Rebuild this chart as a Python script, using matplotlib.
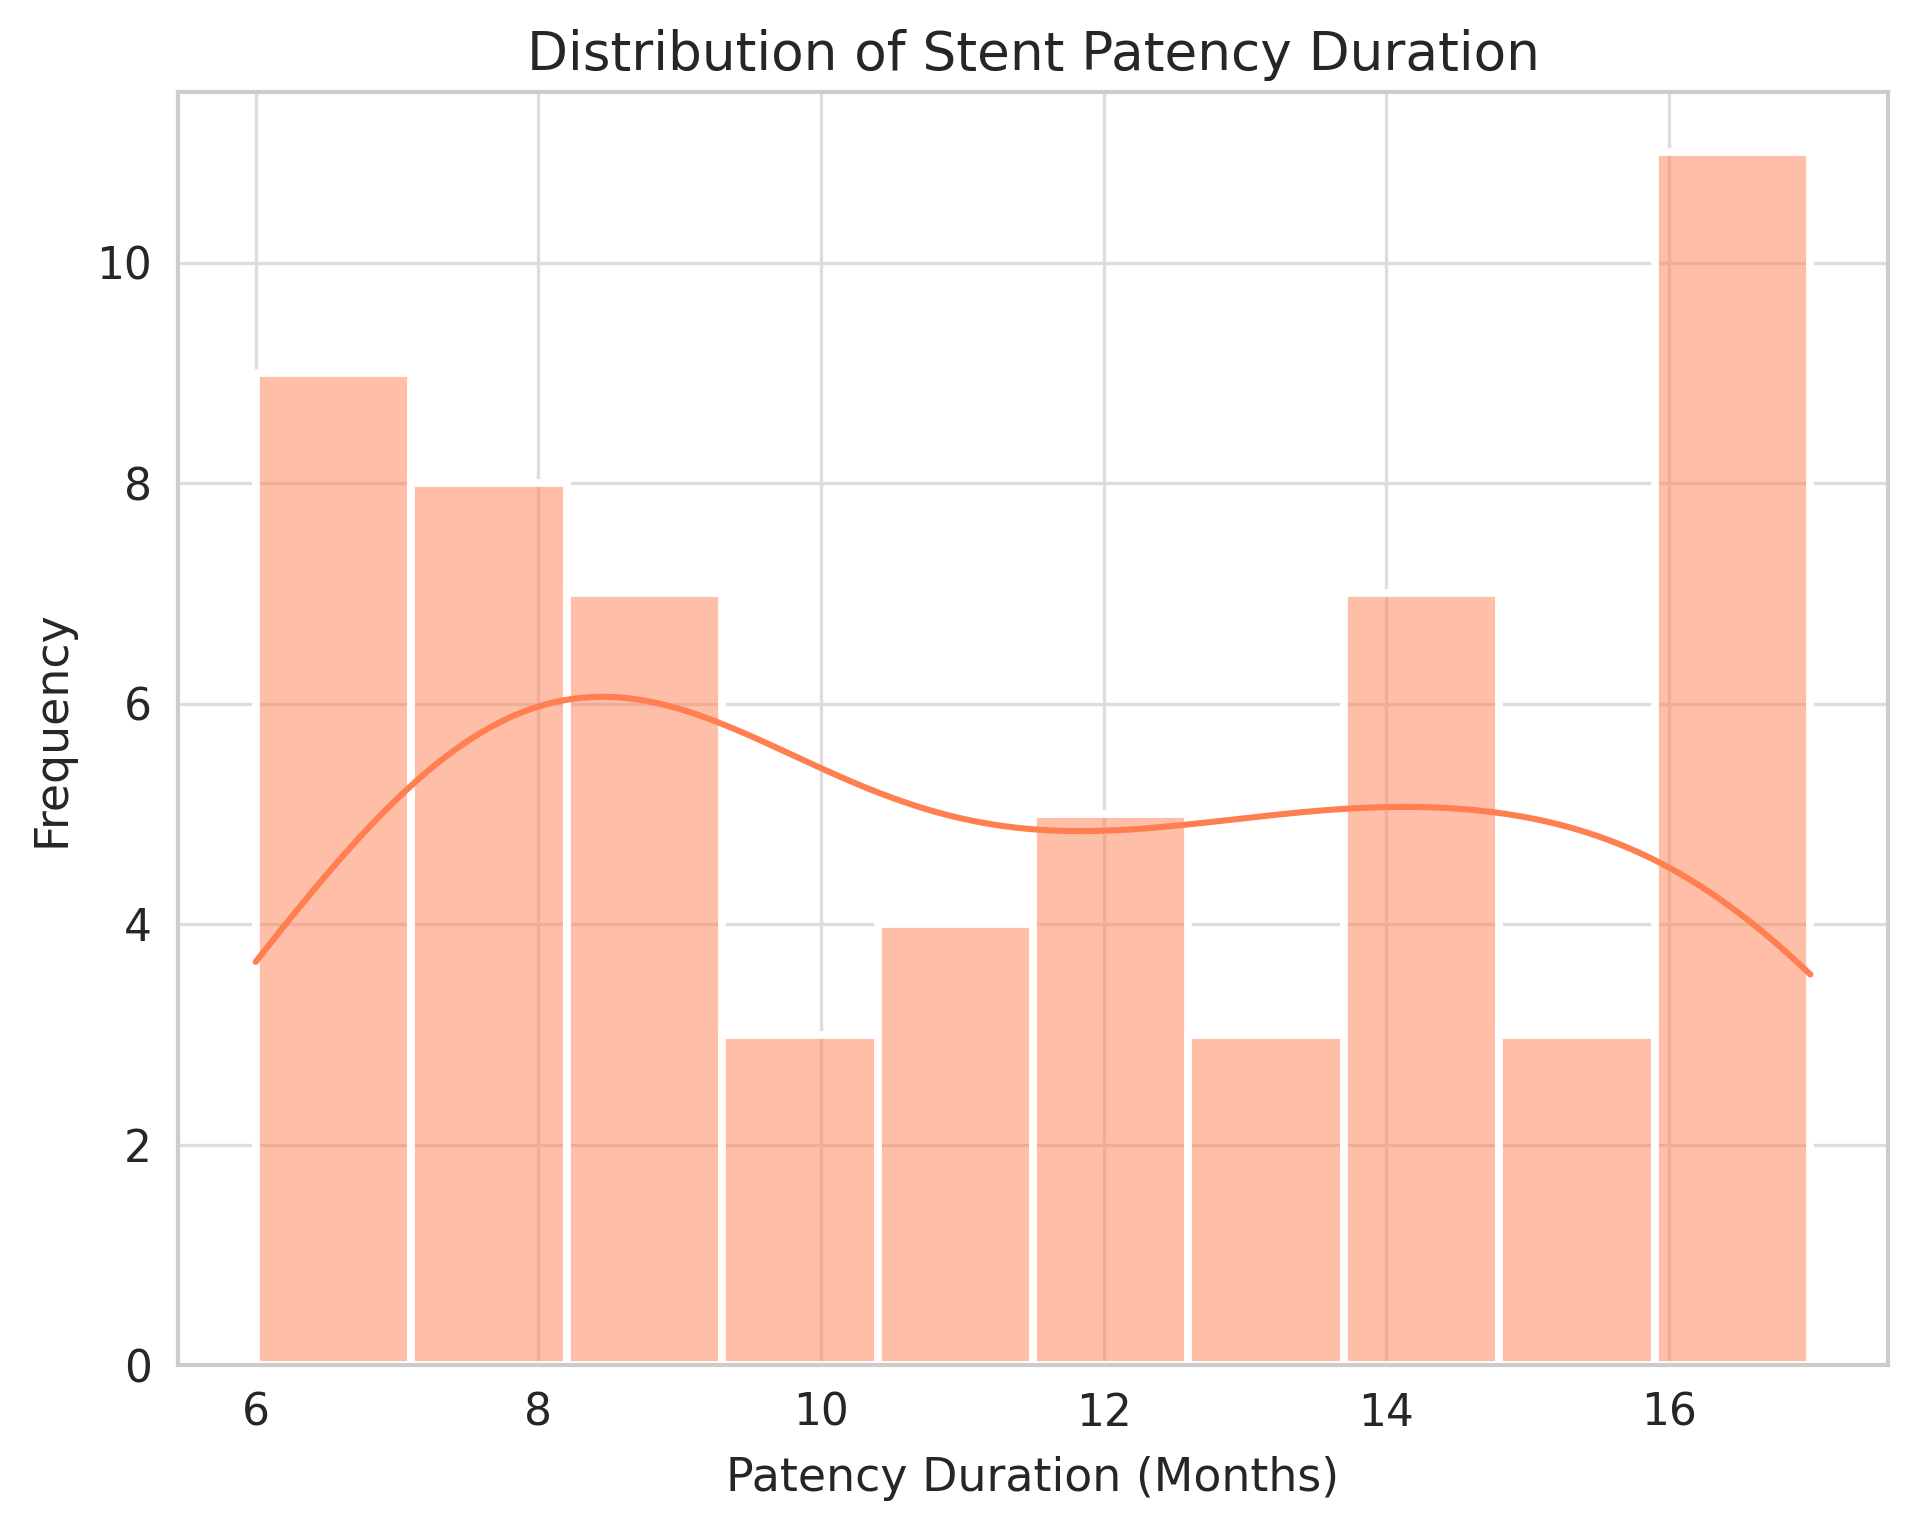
import numpy as np
import pandas as pd
import matplotlib
matplotlib.use("Agg")
import matplotlib.pyplot as plt
import seaborn as sns

# Patency durations (months) and how many patients had each
months = [6, 7, 8, 9, 10, 11, 12, 13, 14, 15, 16, 17]
patients = [5, 4, 8, 7, 3, 4, 5, 3, 7, 3, 5, 6]

title = "Distribution of Stent Patency Duration"
xlabel = "Patency Duration (Months)"
ylabel = "Frequency"

data = pd.DataFrame({"Patency": np.repeat(months, patients)})

sns.set_theme(style="whitegrid")
plt.rcParams['font.family'] = ['DejaVu Sans']

fig = plt.figure(figsize=(1913 / 200, 1529 / 200), dpi=200)
ax = fig.add_axes([0.093, 0.107, 0.894, 0.833])

sns.histplot(data=data, x="Patency", bins=10, kde=True, color="coral",
             edgecolor="white", linewidth=2.8, alpha=0.5, ax=ax,
             line_kws={"linewidth": 2.2})

ax.set_title(title, fontsize=19.2, pad=8)
ax.set_xlabel(xlabel, fontsize=16.5, labelpad=7.5)
ax.set_ylabel(ylabel, fontsize=16.5, labelpad=7.5)
ax.tick_params(labelsize=15.8)
for s in ax.spines.values():
    s.set_linewidth(1.5)
    s.set_color("#cccccc")
ax.grid(linewidth=1.2, color="#dddddd")

fig.savefig("out.png", dpi=200)
